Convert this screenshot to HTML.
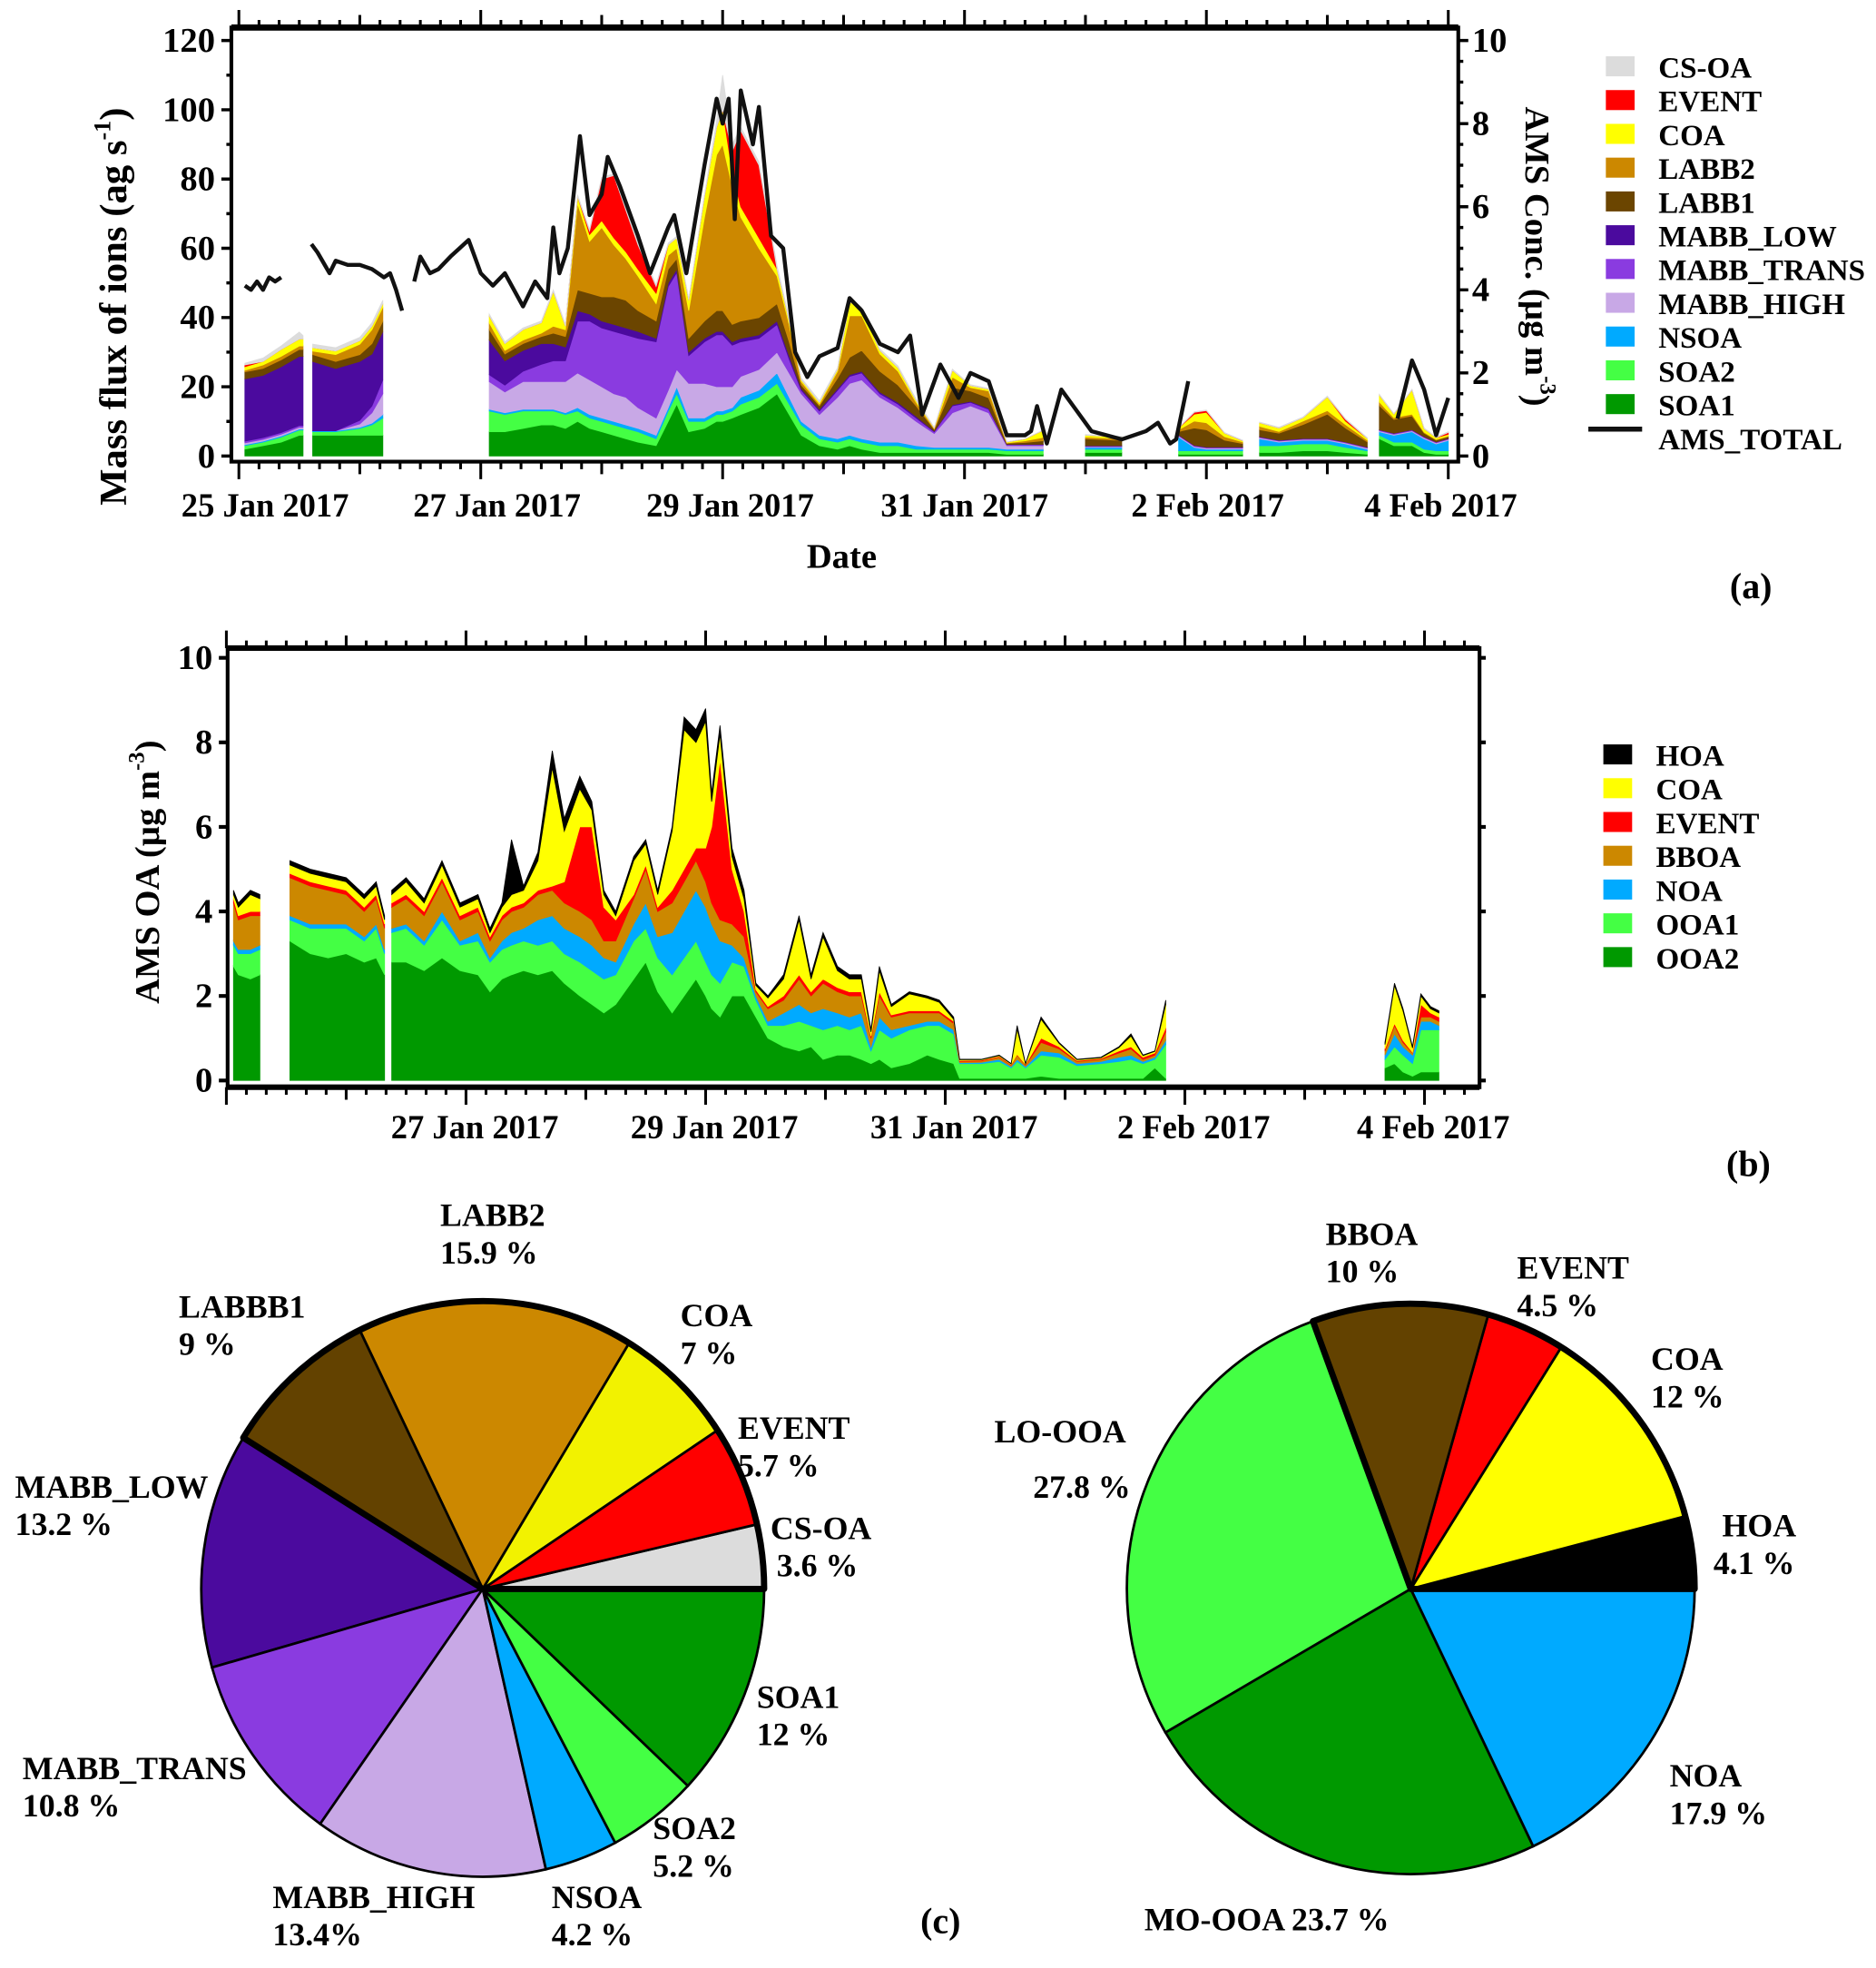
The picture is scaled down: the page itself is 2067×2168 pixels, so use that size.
<!DOCTYPE html>
<html><head><meta charset="utf-8"><style>
html,body{margin:0;padding:0;background:#fff}
svg{display:block}
text{font-family:"Liberation Serif",serif;font-weight:bold;fill:#000}
</style></head><body>
<svg id="fig" xmlns="http://www.w3.org/2000/svg" width="2067" height="2168" viewBox="0 0 1500 1573" preserveAspectRatio="none">
<g id="pa"></g>
<g id="pb"></g>
<g id="pc"></g>
</svg>
<script>
// ---------- Panel (a) data ----------
const aTimes=[0.05,0.2,0.35,0.5,0.53,null,0.61,0.8,1.0,1.1,1.19,null,2.07,2.2,2.35,2.5,2.6,2.7,2.8,2.9,3.0,3.1,3.2,3.3,3.45,3.55,3.62,3.72,3.85,3.95,4.0,4.08,4.15,4.3,4.45,4.55,4.65,4.8,4.95,5.05,5.15,5.3,5.45,5.6,5.75,5.9,6.05,6.2,6.35,6.5,6.65,null,7.0,7.3,null,7.77,7.9,8.0,8.15,8.3,null,8.44,8.6,8.8,9.0,9.15,9.33,null,9.43,9.55,9.7,9.8,9.9,10.0];
const aSOA1=[2,3,4,6,6,0,6,6,6,6,6,0,7,7,8,9,9,8,10,8,7,6,5,4,3,10,15,7,8,10,10,11,12,14,18,12,6,3,2,3,2,1,1,1,1,1,1,1,.5,.5,.5,0,1,1,0,.5,.5,.5,.5,.5,0,1,1,1.5,1.5,1,.5,0,5,3,3,1,.5,.5];
const aSOA2=[1,1,1.5,1.5,1.5,0,1,1,2,3,5,0,6,5,5,4,4,4,3,3,3,3,3,3,2,3,3,3,2,2,2,2,3,3,3,3,3,2,2,2,2,2,2,1,1,1,1,1,1,1,1,0,1,1,0,1,1,1,1,1,0,2,2,2,2,1.5,1,0,1,1,1,1,1,1];
const aNSOA=[.3,.3,.3,.3,.3,0,.3,.3,.3,.5,1,0,.5,.5,.5,.5,.5,.5,1,1,1,1,1,1,1,1,2,1,1,1,1,1,2,2,3,2,1,1,1,1,1,1,1,1,.5,.5,.5,.5,.5,.5,.5,0,.5,.5,0,4,1,.5,.5,.5,0,2,1,1,1,1,.5,0,1,2,3,3,2,3];
const aMABBHIGH=[.5,.5,.5,.5,.5,0,0,0,1,3,6,0,8,6,8,8,8,9,10,10,9,8,8,6,5,5,5,10,10,7,7,6,6,6,6,7,8,6,12,15,17,13,10,7,4,10,12,10,1,1,1,0,.2,.2,0,.3,.3,.3,.3,.3,0,.3,.3,.3,.3,.3,.3,0,.3,.3,.3,.3,.3,.3];
const aMABBTRANS=[.5,.5,.5,.5,.5,0,0,0,1,2,4,0,2,2,3,5,6,6,15,17,17,18,18,20,22,30,28,8,12,15,15,12,10,9,8,4,1,1,2,2,2,1,1,1,.5,2,1,1,.3,.3,.3,0,.2,.2,0,.2,.2,.2,.2,.2,0,.2,.2,.2,.2,.2,.2,0,.2,.2,.2,.2,.2,.2];
const aMABBLOW=[18,18,19,20,20,0,20,18,17,15,14,0,10,7,6,6,5,4,3,2,2,2,2,2,1,1,1,1,1,1,1,1,1,1,1,1,.5,.5,.5,.5,.5,.5,.5,.5,.2,.3,.3,.3,.1,.1,.1,0,.1,.1,0,.1,.1,.1,.1,.1,0,.1,.1,.1,.1,.1,.1,0,.1,.1,.1,.1,.1,.1];
const aLABB1=[2,2,2,2,2,0,2,2,2,3,3,0,3,2,2,2,3,3,6,6,7,8,8,6,5,4,3,4,5,6,6,5,5,5,5,4,1,1,3,5,6,6,5,3,.5,5,3,3,.3,.5,1,0,2,1.5,0,1,5,5,2,1,0,2,2,4,7,4,1.5,0,7,4,4,1,.5,.5];
const aLABB2=[.5,1,1,1,1,0,1,2,3,4,4,0,2,1,1,1,2,2,25,15,20,15,12,10,5,4,3,8,30,45,48,40,30,20,8,5,1,.5,2,12,10,5,4,1,.2,3,1,2,.1,.5,1,0,.5,.5,0,.5,2,2,1,.5,0,1,.5,1,1,1,.5,0,1,.5,.5,.3,.2,.2];
const aCOA=[1,1,2,2,2,0,1,1,1,1,1,0,2,2,3,3,10,1,2,2,2,2,2,2,3,3,3,3,6,8,10,4,3,3,2,1,.5,.5,.5,4,2,1,1,.5,.2,2,.5,.5,.2,.5,2,0,.5,.5,0,.5,2,3,1,.3,0,1,1,1,4,1,.5,0,2,1,7,1,.5,.5];
const aEVENT=[.5,0,0,0,0,0,0,0,0,0,0,0,0,0,0,0,0,0,0,1,12,18,12,7,2,0,0,0,0,0,0,6,22,21,0,0,0,0,0,0,0,0,0,0,0,0,0,0,0,0,0,0,0,0,0,0,.5,.5,0,0,0,0,0,0,0,.5,0,0,0,0,0,0,0,.5];
const aCSOA=[.5,1,1,2,1,0,1,1,1,1,1,0,.5,.5,.5,.5,.5,.5,.5,.5,.5,.5,.5,.5,.5,.5,.5,.5,.5,2,10,2,1,1,1,1,.5,.5,.5,1,.5,.5,.5,.5,.2,.3,.3,.3,.1,.1,.1,0,.2,.2,0,.2,.2,.2,.2,.2,0,.2,.2,.2,.2,.2,.2,0,.2,.2,.2,.2,.2,.2];
const lineTimes=[0.05,0.1,0.15,0.2,0.25,0.3,0.35,null,0.6,0.65,0.75,0.8,0.9,1.0,1.1,1.2,1.25,1.3,1.35,null,1.45,1.5,1.58,1.65,1.75,1.9,2.0,2.1,2.2,2.35,2.45,2.55,2.6,2.65,2.72,2.82,2.9,3.0,3.05,3.15,3.3,3.4,3.55,3.6,3.7,3.85,3.95,4.0,4.05,4.1,4.15,4.25,4.3,4.4,4.5,4.6,4.7,4.8,4.95,5.05,5.15,5.3,5.45,5.55,5.65,5.8,5.95,6.05,6.2,6.35,6.5,6.55,6.6,6.68,6.8,6.9,7.05,7.3,7.5,7.6,7.7,7.75,7.85,null,9.58,9.7,9.8,9.9,10.0];
const amsTotal=[4.1,4.0,4.2,4.0,4.3,4.2,4.3,null,5.1,4.9,4.4,4.7,4.6,4.6,4.5,4.3,4.4,4.0,3.5,null,4.2,4.8,4.4,4.5,4.8,5.2,4.4,4.1,4.4,3.6,4.2,3.8,5.5,4.4,5.0,7.7,5.8,6.3,7.2,6.5,5.3,4.4,5.5,5.8,4.4,7.0,8.6,8.0,8.6,5.7,8.8,7.5,8.4,5.3,5.0,2.5,1.9,2.4,2.6,3.8,3.5,2.7,2.5,2.9,1.0,2.2,1.4,2.0,1.8,0.5,0.5,0.6,1.2,0.3,1.6,1.2,0.6,0.4,0.6,0.8,0.3,0.4,1.8,null,0.9,2.3,1.6,0.5,1.4];
const aLeftTicks=[0,20,40,60,80,100,120];
const aRightTicks=[0,2,4,6,8,10];
const aDateLabels=["25 Jan 2017","27 Jan 2017","29 Jan 2017","31 Jan 2017","2 Feb 2017","4 Feb 2017"];
const aDateDays=[0,2,4,6,8,10];

// ---------- Panel (b) data ----------
const bTimes=[0.06,0.1,0.2,0.28,null,0.53,0.7,0.85,1.0,1.15,1.25,1.32,null,1.38,1.5,1.65,1.8,1.95,2.1,2.2,2.3,2.38,2.48,2.6,2.72,2.82,2.95,3.05,3.15,3.25,3.4,3.5,3.6,3.72,3.82,3.92,4.0,4.05,4.12,4.22,4.32,4.42,4.52,4.65,4.78,4.88,4.98,5.1,5.2,5.3,5.38,5.45,5.55,5.7,5.85,5.95,6.07,6.12,6.3,6.45,6.55,6.6,6.67,6.8,6.95,7.1,7.3,7.45,7.55,7.65,7.75,7.84,null,9.67,9.75,9.82,9.9,9.97,10.05,10.12];
const bOOA2=[2.7,2.5,2.4,2.5,0,3.3,3.0,2.9,3.0,2.8,2.9,2.5,0,2.8,2.8,2.6,2.9,2.6,2.5,2.1,2.4,2.5,2.6,2.5,2.6,2.3,2.0,1.8,1.6,1.8,2.4,2.8,2.1,1.6,2.0,2.4,2.0,1.7,1.5,2.0,2.0,1.5,1.0,.8,.7,.8,.5,.6,.6,.5,.4,.5,.3,.4,.6,.5,.4,.05,.05,.05,.05,.05,.05,.1,.05,.05,.05,.05,.05,.05,.3,.05,0,.3,.4,.2,.1,.2,.2,.2];
const bOOA1=[.5,.5,.6,.6,0,.5,.6,.7,.6,.5,.7,.5,0,.7,.8,.6,.9,.6,.8,.7,.7,.7,.7,.7,.7,.7,.8,.8,.8,.7,.9,.8,.8,.9,.9,.9,.8,.8,.8,.8,.7,.4,.3,.5,.7,.5,.7,.7,.6,.8,.3,.7,.7,.8,.7,.8,.7,.35,.35,.4,.25,.4,.25,.5,.5,.3,.35,.4,.45,.35,.2,.8,0,.2,.4,.4,.3,1.0,1.0,1.0];
const bNOA=[.1,.1,.1,.1,0,.1,.1,.1,.1,.1,.1,.1,0,.1,.1,.1,.2,.1,.2,.1,.2,.3,.3,.6,.6,.6,.6,.6,.5,.3,.4,.6,.5,1.0,1.1,1.2,1.3,1.2,1.0,.4,.2,.1,.1,.3,.4,.3,.5,.3,.3,.3,.1,.3,.2,.1,.1,.1,.1,.02,.03,.05,.03,.05,.03,.1,.1,.05,.05,.1,.1,.05,.05,.1,0,.1,.3,.2,.2,.2,.2,.1];
const bBBOA=[.9,.7,.8,.7,0,.9,.9,.8,.7,.6,.6,.5,0,.5,.6,.6,.7,.5,.5,.4,.5,.5,.5,.6,.6,.6,.6,.6,.4,.5,.6,.8,.6,.7,.7,.7,.6,.5,.5,.5,.5,.1,.3,.3,.6,.4,.6,.5,.5,.4,.2,.5,.3,.3,.2,.2,.15,.03,.03,.05,.03,.1,.03,.2,.1,.05,.05,.1,.15,.05,.05,.2,0,.1,.2,.1,.05,.1,.1,.1];
const bEVENT=[.1,.1,.1,.1,0,.1,.1,.1,.1,.1,.1,.1,0,.1,.1,.1,.1,.1,.1,.1,.1,.1,.1,.1,.1,.5,2.0,2.2,.8,.5,.1,.1,.1,.3,.3,.3,.8,1.8,3.8,1.3,.6,.05,.05,.1,.1,.1,.1,.1,.1,.1,.05,.1,.05,.05,.05,.05,.05,.02,.02,.02,.02,.02,.02,.1,.05,.02,.02,.05,.05,.05,.05,.1,0,.05,.05,.05,.02,.3,.1,.1];
const bCOA=[.1,.2,.4,.3,0,.2,.2,.2,.2,.2,.2,.1,0,.2,.3,.2,.3,.2,.2,.1,.2,.3,.3,.7,2.8,1.2,.9,.4,.3,.1,.8,.5,.3,1.4,3.3,2.5,3.0,.6,.6,.3,.3,.1,.2,.4,1.3,.3,1.0,.4,.3,.3,.1,.5,.2,.4,.3,.2,.05,.02,.01,.02,.01,.6,.01,.45,.08,.02,.02,.08,.25,.04,.04,.55,0,.1,.9,.7,.1,.2,.1,.1];
const bHOA=[.1,.1,.1,.1,0,.1,.1,.1,.1,.1,.1,.1,0,.1,.1,.1,.1,.1,.1,.1,.1,1.3,.1,.2,.4,.3,.3,.2,.1,.1,.1,.1,.1,.1,.3,.3,.3,.2,.2,.2,.2,.05,.05,.1,.1,.1,.1,.1,.1,.1,.05,.1,.05,.05,.05,.05,.05,.01,.01,.01,.01,.08,.01,.05,.02,.01,.01,.02,.05,.01,.01,.1,0,.05,.05,.05,.03,.05,.05,.05];
const bLeftTicks=[0,2,4,6,8,10];
const bDateLabels=["27 Jan 2017","29 Jan 2017","31 Jan 2017","2 Feb 2017","4 Feb 2017"];
const bDateDays=[2,4,6,8,10];

// ---------- Panel (c) data ----------
const pie1Labels=["CS-OA","EVENT","COA","LABB2","LABBB1","MABB_LOW","MABB_TRANS","MABB_HIGH","NSOA","SOA2","SOA1"];
const pie1Values=[3.6,5.7,7,15.9,9,13.2,10.8,13.4,4.2,5.2,12];
const pie1Pct=["3.6 %","5.7 %","7 %","15.9 %","9 %","13.2 %","10.8 %","13.4%","4.2 %","5.2 %","12 %"];
const pie2Labels=["HOA","COA","EVENT","BBOA","LO-OOA","MO-OOA","NOA"];
const pie2Values=[4.1,12,4.5,10,27.8,23.7,17.9];
const pie2Pct=["4.1 %","12 %","4.5 %","10 %","27.8 %","23.7 %","17.9 %"];

const NS="http://www.w3.org/2000/svg";
function mk(tag,attrs,parent){const e=document.createElementNS(NS,tag);for(const k in attrs)e.setAttribute(k,attrs[k]);parent.appendChild(e);return e;}
function txt(parent,x,y,s,size,anchor,name){const t=mk('text',{x:x,y:y,'font-size':size,'text-anchor':anchor||'start'},parent);t.textContent=s;


return t;}

function stack(g,times,series,colors,names,xs,ys){
  const n=times.length;const base=new Array(n).fill(0);
  series.forEach((s,k)=>{
    const top=base.map((b,i)=>b+(s[i]||0));
    let segs=[],cur=[];
    for(let i=0;i<n;i++){if(times[i]===null){if(cur.length)segs.push(cur);cur=[];}else cur.push(i);}
    if(cur.length)segs.push(cur);
    let d='';
    segs.forEach(seg=>{
      d+='M'+seg.map(i=>xs(times[i]).toFixed(1)+','+ys(top[i]).toFixed(1)).join('L');
      d+='L'+seg.slice().reverse().map(i=>xs(times[i]).toFixed(1)+','+ys(base[i]).toFixed(1)).join('L')+'Z';
    });
    const p=mk('path',{d:d,fill:colors[k],stroke:colors[k],'stroke-width':0.6},g);
    
    
    for(let i=0;i<n;i++)base[i]=top[i];
  });
}

function frame(g,x0,x1,y0,y1,sw,xs,days){
  const r=mk('rect',{x:x0,y:y0,width:x1-x0,height:y1-y0,fill:'none',stroke:'#000','stroke-width':sw},g);
  
  
  let d='';
  for(let k=0;k<=days*6;k++){const t=k/6;const x=xs(t);if(x<x0-1||x>x1+1)continue;
    const L=(k%12===0)?14:(k%6===0?10:6);
    d+=`M${x.toFixed(1)},${y1}v${L}M${x.toFixed(1)},${y0}v${-L}`;}
  const p=mk('path',{d:d,stroke:'#000','stroke-width':2.2,fill:'none'},g);
  
  
}

// ===== Panel A =====
(function(){
  const g=document.getElementById('pa');
  const xs=t=>191+96.7*t, ys=v=>364.5-v*(332.1/120), yr=v=>364.5-v*33.21;
  stack(g,aTimes,[aSOA1,aSOA2,aNSOA,aMABBHIGH,aMABBTRANS,aMABBLOW,aLABB1,aLABB2,aCOA,aEVENT,aCSOA],
    ['#009900','#44ff44','#00aaff','#c8a8e6','#8a3be0','#4b0a9e','#6b4500','#cc8800','#ffff00','#ff0000','#dcdcdc'],
    ['soa1','soa2','nsoa','mabb-high','mabb-trans','mabb-low','labb1','labb2','coa','event','cs-oa'],xs,ys);
  let d='',pen=false;
  lineTimes.forEach((t,i)=>{if(t===null){pen=false;return;}d+=(pen?'L':'M')+xs(t).toFixed(1)+','+yr(amsTotal[i]).toFixed(1);pen=true;});
  const ln=mk('path',{d:d,fill:'none',stroke:'#111','stroke-width':3.2,'stroke-linejoin':'round'},g);
  
  
  frame(g,185,1166,22,369,3,xs,11);
  mk('line',{x1:185,y1:22,x2:1166,y2:22,stroke:'#000','stroke-width':5},g);
  let td='';
  aLeftTicks.forEach(v=>{td+=`M185,${ys(v)}h-8`;txt(g,172,ys(v)+9,String(v),28,'end','y-left-tick-label');});
  for(let v=0;v<=120;v+=10)td+=`M185,${ys(v)}h-4`;
  aRightTicks.forEach(v=>{td+=`M1166,${yr(v)}h8`;txt(g,1177,yr(v)+9,String(v),28,'start','y-right-tick-label');});
  for(let v=0;v<=10;v+=0.5)td+=`M1166,${yr(v)}h4`;
  const tp=mk('path',{d:td,stroke:'#000','stroke-width':2.5},g);
  
  
  const off=[21,13,6,0,1,-6];
  aDateLabels.forEach((s,i)=>txt(g,xs(aDateDays[i])+off[i],413,s,26.5,'middle','x-tick-label'));
  txt(g,673,454,'Date',28,'middle','x-axis-title');
  const yl=txt(g,0,0,'',31,'middle','y-left-axis-title');
  yl.setAttribute('transform','translate(101,245) rotate(-90)');
  yl.innerHTML='Mass flux of ions (ag s<tspan dy="-13" font-size="19">-1</tspan><tspan dy="13">)</tspan>';
  const yr2=txt(g,0,0,'',28,'middle','y-right-axis-title');
  yr2.setAttribute('transform','translate(1220,205) rotate(90)');
  yr2.innerHTML='AMS Conc. (µg m<tspan dy="-12" font-size="18">-3</tspan><tspan dy="12">)</tspan>';
  txt(g,1400,478,'(a)',29,'middle','panel-label-a');
  const lg=mk('g',{},g);
  const names=['CS-OA','EVENT','COA','LABB2','LABB1','MABB_LOW','MABB_TRANS','MABB_HIGH','NSOA','SOA2','SOA1'];
  const cols=['#dcdcdc','#ff0000','#ffff00','#cc8800','#6b4500','#4b0a9e','#8a3be0','#c8a8e6','#00aaff','#44ff44','#009900'];
  names.forEach((n,i)=>{const y=45+27*i;const r=mk('rect',{x:1284,y:y,width:23,height:16,fill:cols[i]},lg);
    
    
    txt(lg,1326,y+17,n,24,'start','legend-entry');});
  mk('line',{x1:1270,y1:343,x2:1313,y2:343,stroke:'#111','stroke-width':4},lg);
  txt(lg,1326,359,'AMS_TOTAL',24,'start','legend-entry');
})();

// ===== Panel B =====
(function(){
  const g=document.getElementById('pb');
  const xs=t=>181+95.8*t, ys=v=>863.6-v*33.78;
  stack(g,bTimes,[bOOA2,bOOA1,bNOA,bBBOA,bEVENT,bCOA,bHOA],
    ['#009900','#44ff44','#00aaff','#cc8800','#ff0000','#ffff00','#000000'],
    ['ooa2','ooa1','noa','bboa','event','coa','hoa'],xs,ys);
  frame(g,182,1183,518,869,3,xs,11);
  mk('line',{x1:182,y1:518,x2:1183,y2:518,stroke:'#000','stroke-width':4.5},g);
  mk('line',{x1:182,y1:869,x2:1183,y2:869,stroke:'#000','stroke-width':4.5},g);
  let td='';
  bLeftTicks.forEach(v=>{td+=`M182,${ys(v)}h-7M1183,${ys(v)}h5`;txt(g,170,ys(v)+9,String(v),28,'end','y-tick-label');});
  const tp=mk('path',{d:td,stroke:'#000','stroke-width':3},g);
  
  
  bDateLabels.forEach((s,i)=>txt(g,xs(bDateDays[i])+7,910,s,26.5,'middle','x-tick-label'));
  const yl=txt(g,0,0,'',28,'middle','y-axis-title');
  yl.setAttribute('transform','translate(127,697) rotate(-90)');
  yl.innerHTML='AMS OA (µg m<tspan dy="-12" font-size="18">-3</tspan><tspan dy="12">)</tspan>';
  txt(g,1398,940,'(b)',29,'middle','panel-label-b');
  const lg=mk('g',{},g);
  const names=['HOA','COA','EVENT','BBOA','NOA','OOA1','OOA2'];
  const cols=['#000000','#ffff00','#ff0000','#cc8800','#00aaff','#44ff44','#009900'];
  names.forEach((n,i)=>{const y=595+27*i;const r=mk('rect',{x:1282,y:y,width:23,height:16,fill:cols[i]},lg);
    
    
    txt(lg,1324,y+17,n,24,'start','legend-entry');});
})();

// ===== Panel C =====
function pie(g,cx,cy,rx,ry,vals,cols,names,boldCount){
  const tot=vals.reduce((a,b)=>a+b,0);let a0=0;const P=a=>[cx+rx*Math.cos(a),cy-ry*Math.sin(a)];
  vals.forEach((v,i)=>{const a1=a0+v/tot*2*Math.PI;const p0=P(a0),p1=P(a1);
    const d=`M${cx},${cy}L${p0[0].toFixed(1)},${p0[1].toFixed(1)}A${rx},${ry} 0 ${a1-a0>Math.PI?1:0} 0 ${p1[0].toFixed(1)},${p1[1].toFixed(1)}Z`;
    const p=mk('path',{d:d,fill:cols[i],stroke:'#000','stroke-width':2},g);
    
    
    a0=a1;});
  let ab=0;for(let i=0;i<boldCount;i++)ab+=vals[i]/tot*2*Math.PI;
  const q0=P(0),q1=P(ab);
  const b=mk('path',{d:`M${cx},${cy}L${q0[0]},${q0[1]}A${rx},${ry} 0 0 0 ${q1[0].toFixed(1)},${q1[1].toFixed(1)}Z`,fill:'none',stroke:'#000','stroke-width':5,'stroke-linejoin':'round'},g);
  
  
}
(function(){
  const g=document.getElementById('pc');
  pie(g,386,1270,225,230,pie1Values,['#dcdcdc','#ff0000','#f2f200','#cc8800','#634200','#4b0a9e','#8a3be0','#c8a8e6','#00aaff','#44ff44','#009900'],pie1Labels,5);
  const pos1=[[616,1230],[590,1150],[544,1060],[352,980],[143,1053],[12,1197],[18,1422],[218,1525],[441,1525],[522,1470],[605,1365]];
  pie1Labels.forEach((s,i)=>{txt(g,pos1[i][0],pos1[i][1],s,26,'start','pie1-label');txt(g,pos1[i][0]+(i===0?5:0),pos1[i][1]+30,pie1Pct[i],26,'start','pie1-percent');});
  pie(g,1128,1270,227,228,pie2Values,['#000000','#ffff00','#ff0000','#634200','#44ff44','#009900','#00aaff'],pie2Labels,4);
  const pos2=[[1377,1228],[1320,1095],[1213,1022],[1060,995]];
  pos2.forEach((p,i)=>{txt(g,p[0],p[1],pie2Labels[i],26,'start','pie2-label');txt(g,p[0]-(i===0?7:0),p[1]+30,pie2Pct[i],26,'start','pie2-percent');});
  txt(g,795,1153,pie2Labels[4],26,'start','pie2-label');txt(g,826,1197,pie2Pct[4],26,'start','pie2-percent');
  txt(g,915,1543,pie2Labels[5]+' '+pie2Pct[5],26,'start','pie2-label');
  txt(g,1335,1428,pie2Labels[6],26,'start','pie2-label');txt(g,1335,1458,pie2Pct[6],26,'start','pie2-percent');
  txt(g,752,1545,'(c)',29,'middle','panel-label-c');
})();
</script>
</body></html>
